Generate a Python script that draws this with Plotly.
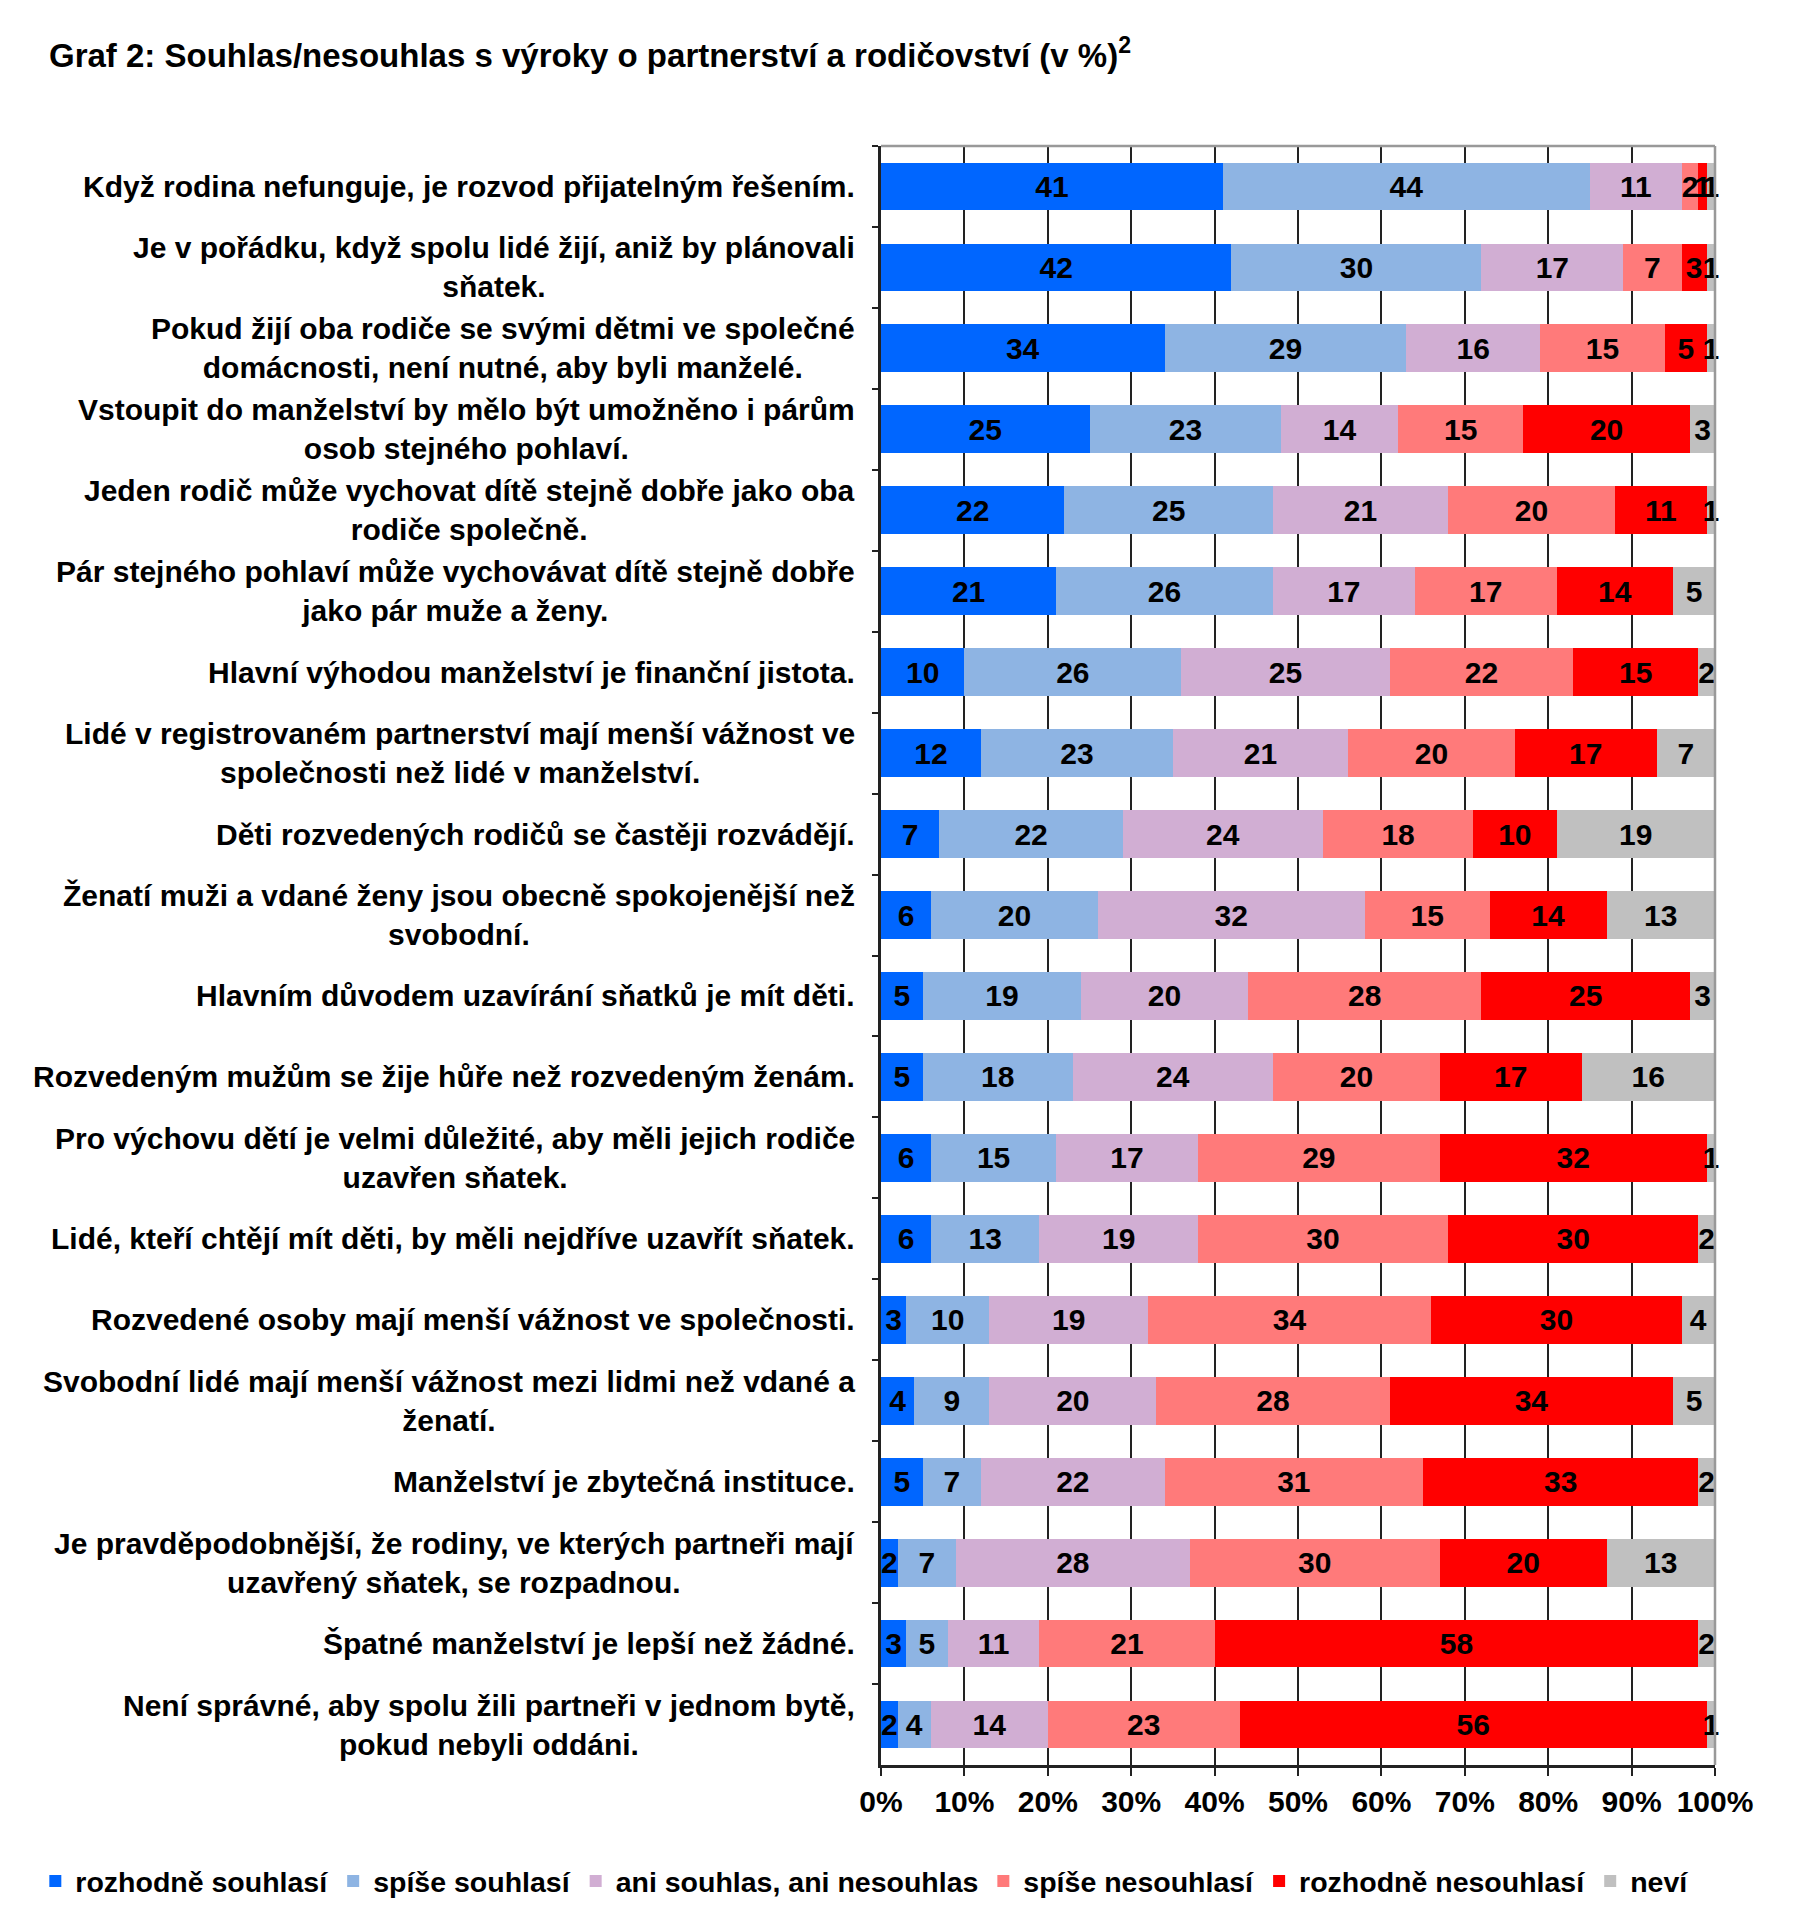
import plotly.graph_objects as go

FONT = "Liberation Sans"

statements = [
    "Když rodina nefunguje, je rozvod přijatelným řešením.",
    "Je v pořádku, když spolu lidé žijí, aniž by plánovali<br>sňatek.",
    "Pokud žijí oba rodiče se svými dětmi ve společné<br>domácnosti, není nutné, aby byli manželé.",
    "Vstoupit do manželství by mělo být umožněno i párům<br>osob stejného pohlaví.",
    "Jeden rodič může vychovat dítě stejně dobře jako oba<br>rodiče společně.",
    "Pár stejného pohlaví může vychovávat dítě stejně dobře<br>jako pár muže a ženy.",
    "Hlavní výhodou manželství je finanční jistota.",
    "Lidé v registrovaném partnerství mají menší vážnost ve<br>společnosti než lidé v manželství.",
    "Děti rozvedených rodičů se častěji rozvádějí.",
    "Ženatí muži a vdané ženy jsou obecně spokojenější než<br>svobodní.",
    "Hlavním důvodem uzavírání sňatků je mít děti.",
    "Rozvedeným mužům se žije hůře než rozvedeným ženám.",
    "Pro výchovu dětí je velmi důležité, aby měli jejich rodiče<br>uzavřen sňatek.",
    "Lidé, kteří chtějí mít děti, by měli nejdříve uzavřít sňatek.",
    "Rozvedené osoby mají menší vážnost ve společnosti.",
    "Svobodní lidé mají menší vážnost mezi lidmi než vdané a<br>ženatí.",
    "Manželství je zbytečná instituce.",
    "Je pravděpodobnější, že rodiny, ve kterých partneři mají<br>uzavřený sňatek, se rozpadnou.",
    "Špatné manželství je lepší než žádné.",
    "Není správné, aby spolu žili partneři v jednom bytě,<br>pokud nebyli oddáni.",
]

rozhodne_souhlasi = [41, 42, 34, 25, 22, 21, 10, 12, 7, 6, 5, 5, 6, 6, 3, 4, 5, 2, 3, 2]
spise_souhlasi = [44, 30, 29, 23, 25, 26, 26, 23, 22, 20, 19, 18, 15, 13, 10, 9, 7, 7, 5, 4]
ani_ani = [11, 17, 16, 14, 21, 17, 25, 21, 24, 32, 20, 24, 17, 19, 19, 20, 22, 28, 11, 14]
spise_nesouhlasi = [2, 7, 15, 15, 20, 17, 22, 20, 18, 15, 28, 20, 29, 30, 34, 28, 31, 30, 21, 23]
rozhodne_nesouhlasi = [1, 3, 5, 20, 11, 14, 15, 17, 10, 14, 25, 17, 32, 30, 30, 34, 33, 20, 58, 56]
nevi = [1, 1, 1, 3, 1, 5, 2, 7, 19, 13, 3, 16, 1, 2, 4, 5, 2, 13, 2, 1]

series = [
    ("rozhodně souhlasí", rozhodne_souhlasi, "#0066FF"),
    ("spíše souhlasí", spise_souhlasi, "#8EB4E3"),
    ("ani souhlas, ani nesouhlas", ani_ani, "#D1AED3"),
    ("spíše nesouhlasí", spise_nesouhlasi, "#FF7A7A"),
    ("rozhodně nesouhlasí", rozhodne_nesouhlasi, "#FF0000"),
    ("neví", nevi, "#C0C0C0"),
]

x_ticks = list(range(0, 101, 10))
x_tick_labels = [f"{v}%" for v in x_ticks]

# page body adds 8px margin, so the figure is 8px smaller than the window
W, H = 1789, 1912

fig = go.Figure()

for name, vals, color in series:
    fig.add_trace(go.Bar(
        y=statements, x=vals, name=name, orientation="h",
        marker=dict(color=color, line_width=0),
        text=[str(v) for v in vals], textposition="inside",
        insidetextanchor="middle", constraintext="none",
        textfont=dict(family=FONT, size=30, color="black", weight="bold"),
        cliponaxis=False,
    ))

for s in statements:
    fig.add_annotation(
        x=-0.029, xref="paper", y=s, yref="y", text=s, showarrow=False,
        xanchor="right", yanchor="middle", align="center",
        font=dict(family=FONT, size=30, color="black", weight="bold"),
    )

fig.update_layout(
    width=W, height=H,
    barmode="stack", bargap=0.41,
    plot_bgcolor="white", paper_bgcolor="white",
    margin=dict(l=873, r=82, t=138, b=155),
    font=dict(family=FONT, color="black"),
    title=dict(
        text="Graf 2: Souhlas/nesouhlas s výroky o partnerství a rodičovství (v %)<sup>2</sup>",
        x=41 / W, xanchor="left", y=1 - 47 / H, yanchor="middle",
        font=dict(family=FONT, size=33, color="black", weight="bold"),
    ),
    xaxis=dict(
        range=[0, 100], tickmode="array", tickvals=x_ticks, ticktext=x_tick_labels,
        showgrid=True, gridcolor="#222222", gridwidth=2,
        showline=True, linecolor="#222222", linewidth=2.5,
        ticks="outside", ticklen=8, tickwidth=2, tickcolor="#222222",
        tickfont=dict(family=FONT, size=30, color="black", weight="bold"),
        zeroline=False,
    ),
    yaxis=dict(
        autorange="reversed", showticklabels=False, showgrid=False,
        showline=True, linecolor="#222222", linewidth=2.5,
        ticks="outside", tickson="boundaries", ticklen=6, tickwidth=2, tickcolor="#222222",
    ),
    legend=dict(
        orientation="h", x=-1.014, xanchor="left", y=-0.072, yanchor="middle",
        font=dict(family=FONT, size=28.5, color="black", weight="bold"),
        traceorder="normal", itemwidth=30, tracegroupgap=0,
        borderwidth=0,
    ),
    showlegend=True,
    shapes=[
        dict(type="line", xref="paper", yref="paper", x0=0, x1=1, y0=1, y1=1,
             line=dict(color="#999999", width=2.5)),
        dict(type="line", xref="paper", yref="paper", x0=1, x1=1, y0=0, y1=1,
             line=dict(color="#999999", width=2.5)),
    ],
)

fig.write_html("out.html")
